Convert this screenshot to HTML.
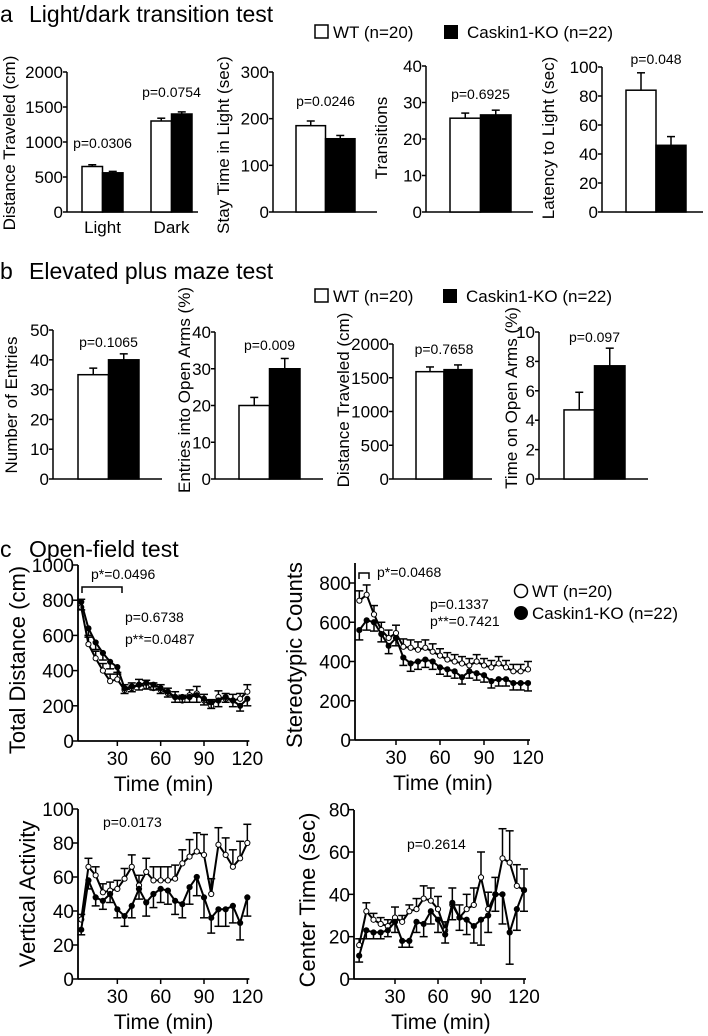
<!DOCTYPE html>
<html><head><meta charset="utf-8">
<style>
html,body{margin:0;padding:0;background:#fff;}
svg{display:block;font-family:"Liberation Sans",Arial,sans-serif;}
</style></head>
<body>
<svg id="fig" width="708" height="1036" viewBox="0 0 708 1036" xmlns="http://www.w3.org/2000/svg">
<g><text x="0" y="22" font-size="23">a</text><text x="29" y="22" font-size="23">Light/dark transition test</text></g>
<g><text x="0" y="279" font-size="23">b</text><text x="29" y="279" font-size="23">Elevated plus maze test</text></g>
<g><text x="0" y="557" font-size="23">c</text><text x="29" y="557" font-size="23">Open-field test</text></g>
<g>
<rect x="315" y="25" width="13" height="13" fill="#fff" stroke="#000" stroke-width="1.5"/>
<text x="333" y="38" font-size="17">WT (n=20)</text>
<rect x="444" y="25" width="14" height="14" fill="#000"/>
<text x="467" y="38" font-size="17">Caskin1-KO (n=22)</text>
</g>
<g>
<rect x="315" y="289" width="13" height="13" fill="#fff" stroke="#000" stroke-width="1.5"/>
<text x="333" y="302" font-size="17">WT (n=20)</text>
<rect x="443" y="289" width="14" height="14" fill="#000"/>
<text x="466" y="302" font-size="17">Caskin1-KO (n=22)</text>
</g>
<g>
<circle cx="521" cy="591" r="6.5" fill="#fff" stroke="#000" stroke-width="1.5"/>
<text x="532" y="597" font-size="17">WT (n=20)</text>
<circle cx="521" cy="613" r="7" fill="#000"/>
<text x="532" y="619" font-size="17">Caskin1-KO (n=22)</text>
</g>
</svg>
<script>
// ---------- bar chart data ----------
const distLightDarkGroups = ["Light","Dark"];
const distLightDarkWT = [650,1300];
const distLightDarkWTErr = [25,40];
const distLightDarkKO = [560,1400];
const distLightDarkKOErr = [20,30];
const stayTimeVals = [185,157];
const stayTimeErr = [10,7];
const transitionsVals = [25.7,26.6];
const transitionsErr = [1.4,1.3];
const latencyVals = [84,46];
const latencyErr = [12,6];
const epmEntriesVals = [35,40];
const epmEntriesErr = [2.2,2.0];
const epmOpenEntriesVals = [20,30];
const epmOpenEntriesErr = [2.2,2.8];
const epmDistanceVals = [1590,1620];
const epmDistanceErr = [70,70];
const epmOpenTimeVals = [4.7,7.7];
const epmOpenTimeErr = [1.2,1.2];

const ticks2000 = [0,500,1000,1500,2000];
const ticks300 = [0,100,200,300];
const ticks40 = [0,10,20,30,40];
const ticks100by20 = [0,20,40,60,80,100];
const ticks50 = [0,10,20,30,40,50];
const ticks10 = [0,2,4,6,8,10];

// ---------- line chart data (t = 5..120 min) ----------
const timePoints = [5,10,15,20,25,30,35,40,45,50,55,60,65,70,75,80,85,90,95,100,105,110,115,120];
const tdWT = [760,550,470,400,340,350,290,300,320,310,300,290,270,250,230,260,270,230,200,250,240,230,240,280];
const tdKO = [790,640,560,500,450,420,300,310,320,330,320,300,280,250,250,250,260,240,220,230,250,230,200,240];
const tdErr = [45,40,40,40,40,40,30,30,30,35,30,30,30,30,30,30,40,35,35,35,30,35,30,40];
const scWT = [710,740,640,560,520,545,475,470,460,470,450,430,410,400,390,380,400,380,370,390,370,350,350,360];
const scKO = [560,610,600,540,480,520,420,390,400,410,400,370,360,350,320,350,340,330,300,310,310,290,290,290];
const scErr = [50,50,45,40,40,40,40,40,40,40,40,35,35,35,35,35,35,35,35,35,35,35,35,40];
const vaWT = [35,66,61,51,52,53,59,66,55,63,58,58,58,59,68,72,75,73,50,79,73,66,71,80];
const vaKO = [29,58,48,46,50,41,37,43,53,45,50,53,52,46,44,54,60,48,36,41,41,43,33,48];
const vaErr = [3,5,5,5,5,5,6,7,6,8,8,8,8,8,8,10,11,12,9,10,10,10,10,11];
const ctWT = [16,32,28,26,25,29,27,32,33,38,37,33,23,35,29,33,35,48,33,40,57,55,44,42];
const ctKO = [11,23,22,22,23,27,18,18,27,26,32,28,21,36,29,28,25,28,30,40,40,22,33,42];
const ctErr = [3,4,3,3,3,5,3,3,5,6,6,6,4,8,6,7,8,12,8,8,14,15,10,10];
const timeTicks = [30,60,90,120];
const tdTicks = [0,200,400,600,800,1000];
const scTicks = [0,200,400,600,800];
const vaTicks = [0,20,40,60,80,100];
const ctTicks = [0,20,40,60,80];

const NS = "http://www.w3.org/2000/svg";
const svg = document.getElementById("fig");
function mk(tag, attrs, parent, text){
  const e = document.createElementNS(NS, tag);
  for (const k in attrs) e.setAttribute(k, attrs[k]);
  if (text !== undefined) e.textContent = text;
  (parent||svg).appendChild(e);
  return e;
}

function barChart(cfg, values, errs, ko, koErr, groups){
  const g = mk("g", {});
  
  
  const y = v => cfg.y0 - (v/cfg.vmax)*(cfg.y0-cfg.yTop);
  const ax = mk("line",{x1:cfg.ax,y1:cfg.y0,x2:cfg.ax,y2:cfg.yTop,stroke:"#000","stroke-width":1.5},g);
  
  
  const bx = mk("line",{x1:cfg.ax,y1:cfg.y0,x2:cfg.axEnd,y2:cfg.y0,stroke:"#000","stroke-width":1.5},g);
  
  
  cfg.ticks.forEach(t=>{
    mk("line",{x1:cfg.ax-4,y1:y(t),x2:cfg.ax,y2:y(t),stroke:"#000","stroke-width":1.5},g);
    const tl = mk("text",{x:cfg.ax-4,y:y(t)+6,"font-size":17,"text-anchor":"end"},g,String(t));
    
    
  });
  const yl = mk("text",{x:0,y:0,"font-size":17,"text-anchor":"middle",transform:`translate(${cfg.lx},${cfg.lyc}) rotate(-90)`},g,cfg.ylabel);
  
  
  const drawBar = (x1,x2,v,e,fill,nm)=>{
    const cx=(x1+x2)/2;
    const el = mk("line",{x1:cx,y1:y(v),x2:cx,y2:y(v+e),stroke:"#000","stroke-width":1.5},g);
    
    
    mk("line",{x1:cx-4,y1:y(v+e),x2:cx+4,y2:y(v+e),stroke:"#000","stroke-width":1.5},g);
    const r = mk("rect",{x:x1,y:y(v),width:x2-x1,height:cfg.y0-y(v),fill:fill,stroke:"#000","stroke-width":1.5},g);
    
    
  };
  cfg.groups.forEach((gp,i)=>{
    drawBar(gp.x, gp.x+gp.w, values[i], errs[i], "#fff", "bar-wt");
    drawBar(gp.x+gp.w, gp.x+2*gp.w, ko[i], koErr[i], "#000", "bar-ko");
    if (groups){
      const gl = mk("text",{x:gp.x+gp.w,y:cfg.y0+21,"font-size":17,"text-anchor":"middle"},g,groups[i]);
      
      
    }
    if (gp.p){
      const pl = mk("text",{x:gp.x+gp.w,y:gp.py,"font-size":14,"text-anchor":"middle"},g,gp.p);
      
      
    }
  });
}

// Panel a
barChart({name:"distance-light-dark-chart",ax:67,axEnd:198,y0:212,yTop:72,vmax:2000,ticks:ticks2000,lx:15,lyc:143,ylabel:"Distance Traveled (cm)",
  groups:[{x:82,w:20.5,p:"p=0.0306",py:148},{x:151,w:20.5,p:"p=0.0754",py:97}]},
  distLightDarkWT,distLightDarkWTErr,distLightDarkKO,distLightDarkKOErr,distLightDarkGroups);
barChart({name:"stay-time-chart",ax:273,axEnd:377,y0:212,yTop:72,vmax:300,ticks:ticks300,lx:229,lyc:145,ylabel:"Stay Time in Light (sec)",
  groups:[{x:296,w:29.5,p:"p=0.0246",py:106}]},[stayTimeVals[0]],[stayTimeErr[0]],[stayTimeVals[1]],[stayTimeErr[1]]);
barChart({name:"transitions-chart",ax:426,axEnd:533,y0:212,yTop:66,vmax:40,ticks:ticks40,lx:387,lyc:138,ylabel:"Transitions",
  groups:[{x:450,w:30.5,p:"p=0.6925",py:99}]},[transitionsVals[0]],[transitionsErr[0]],[transitionsVals[1]],[transitionsErr[1]]);
barChart({name:"latency-chart",ax:602,axEnd:703,y0:212,yTop:67,vmax:100,ticks:ticks100by20,lx:554,lyc:138,ylabel:"Latency to Light (sec)",
  groups:[{x:626,w:30,p:"p=0.048",py:64}]},[latencyVals[0]],[latencyErr[0]],[latencyVals[1]],[latencyErr[1]]);
// Panel b
barChart({name:"epm-entries-chart",ax:53,axEnd:162,y0:479,yTop:330,vmax:50,ticks:ticks50,lx:17,lyc:405,ylabel:"Number of Entries",
  groups:[{x:78,w:30.5,p:"p=0.1065",py:347}]},[epmEntriesVals[0]],[epmEntriesErr[0]],[epmEntriesVals[1]],[epmEntriesErr[1]]);
barChart({name:"epm-open-entries-chart",ax:215,axEnd:323,y0:479,yTop:332,vmax:40,ticks:ticks40,lx:190,lyc:390,ylabel:"Entries into Open Arms (%)",
  groups:[{x:239,w:30.5,p:"p=0.009",py:350}]},[epmOpenEntriesVals[0]],[epmOpenEntriesErr[0]],[epmOpenEntriesVals[1]],[epmOpenEntriesErr[1]]);
barChart({name:"epm-distance-chart",ax:393,axEnd:492,y0:479,yTop:344,vmax:2000,ticks:ticks2000,lx:349,lyc:400,ylabel:"Distance Traveled (cm)",
  groups:[{x:416,w:28,p:"p=0.7658",py:354}]},[epmDistanceVals[0]],[epmDistanceErr[0]],[epmDistanceVals[1]],[epmDistanceErr[1]]);
barChart({name:"epm-open-time-chart",ax:539,axEnd:648,y0:479,yTop:332,vmax:10,ticks:ticks10,lx:517,lyc:398,ylabel:"Time on Open Arms (%)",
  groups:[{x:564,w:30.5,p:"p=0.097",py:342}]},[epmOpenTimeVals[0]],[epmOpenTimeErr[0]],[epmOpenTimeVals[1]],[epmOpenTimeErr[1]]);

// line charts
function lineChart(cfg, wt, ko, err){
  const g = mk("g", {});
  
  
  const x = t => cfg.x0 + t*cfg.pxPerMin;
  const y = v => cfg.y0 - v*cfg.pxPerUnit;
  const a1 = mk("line",{x1:cfg.ax,y1:cfg.y0,x2:cfg.ax,y2:cfg.axTop,stroke:"#000","stroke-width":1.8},g);
  
  
  const a2 = mk("line",{x1:cfg.ax,y1:cfg.y0,x2:x(120)+2,y2:cfg.y0,stroke:"#000","stroke-width":1.8},g);
  
  
  cfg.yticks.forEach(t=>{
    mk("line",{x1:cfg.ax-5,y1:y(t),x2:cfg.ax,y2:y(t),stroke:"#000","stroke-width":1.5},g);
    const tl = mk("text",{x:cfg.ax-4,y:y(t)+7,"font-size":19,"text-anchor":"end"},g,String(t));
    
    
  });
  timeTicks.forEach(t=>{
    mk("line",{x1:x(t),y1:cfg.y0,x2:x(t),y2:cfg.y0+5,stroke:"#000","stroke-width":1.5},g);
    const tl = mk("text",{x:x(t),y:cfg.y0+24,"font-size":19,"text-anchor":"middle"},g,String(t));
    
    
  });
  const xt = mk("text",{x:x(62),y:cfg.y0+50,"font-size":21,"text-anchor":"middle"},g,"Time (min)");
  
  
  const yt = mk("text",{x:0,y:0,"font-size":22,"text-anchor":"middle",transform:`translate(${cfg.lx},${cfg.lyc}) rotate(-90)`},g,cfg.ylabel);
  
  
  const series = (vals, fill, nm, dir)=>{
    const sg = mk("g",{},g);
    
    
    vals.forEach((v,i)=>{
      const cx=x(timePoints[i]), e=err[i]*dir;
      mk("line",{x1:cx,y1:y(v),x2:cx,y2:y(v+e),stroke:"#000","stroke-width":1.5},sg);
      mk("line",{x1:cx-4,y1:y(v+e),x2:cx+4,y2:y(v+e),stroke:"#000","stroke-width":1.5},sg);
    });
    const pl = mk("polyline",{points:vals.map((v,i)=>x(timePoints[i])+","+y(v)).join(" "),fill:"none",stroke:"#000","stroke-width":2},sg);
    
    
    vals.forEach((v,i)=>{
      const c = mk("circle",{cx:x(timePoints[i]),cy:y(v),r:2.6,fill:fill,stroke:"#000","stroke-width":1},sg);
      
      
    });
  };
  series(wt,"#fff","wt-series",1);
  series(ko,"#000","ko-series",-1);
  (cfg.notes||[]).forEach(n=>{
    const t = mk("text",{x:n[0],y:n[1],"font-size":14},g,n[2]);
    
    
  });
  if (cfg.bracket){
    const b=cfg.bracket;
    const br = mk("polyline",{points:`${b[0]},${b[2]+6} ${b[0]},${b[2]} ${b[1]},${b[2]} ${b[1]},${b[2]+6}`,fill:"none",stroke:"#000","stroke-width":1.5},g);
    
    
  }
}
lineChart({name:"total-distance-chart",ax:78,x0:74,pxPerMin:130/90,y0:741,pxPerUnit:176/1000,axTop:565,yticks:tdTicks,lx:25,lyc:660,ylabel:"Total Distance (cm)",
  notes:[[91,579,"p*=0.0496"],[125,622,"p=0.6738"],[125,644,"p**=0.0487"]],bracket:[82,122,587]},tdWT,tdKO,tdErr);
lineChart({name:"stereotypic-counts-chart",ax:355,x0:352,pxPerMin:132/90,y0:740,pxPerUnit:157/800,axTop:563,yticks:scTicks,lx:302,lyc:655,ylabel:"Stereotypic Counts",
  notes:[[377,577,"p*=0.0468"],[430,609,"p=0.1337"],[430,626,"p**=0.7421"]],bracket:[359,369,573]},scWT,scKO,scErr);
lineChart({name:"vertical-activity-chart",ax:78,x0:74,pxPerMin:130/90,y0:979,pxPerUnit:136/80,axTop:809,yticks:vaTicks,lx:35,lyc:894,ylabel:"Vertical Activity",
  notes:[[103,827,"p=0.0173"]]},vaWT,vaKO,vaErr);
lineChart({name:"center-time-chart",ax:354,x0:352,pxPerMin:129/90,y0:979,pxPerUnit:127/60,axTop:810,yticks:ctTicks,lx:315,lyc:900,ylabel:"Center Time (sec)",
  notes:[[407,849,"p=0.2614"]]},ctWT,ctKO,ctErr);
</script>
</body></html>
